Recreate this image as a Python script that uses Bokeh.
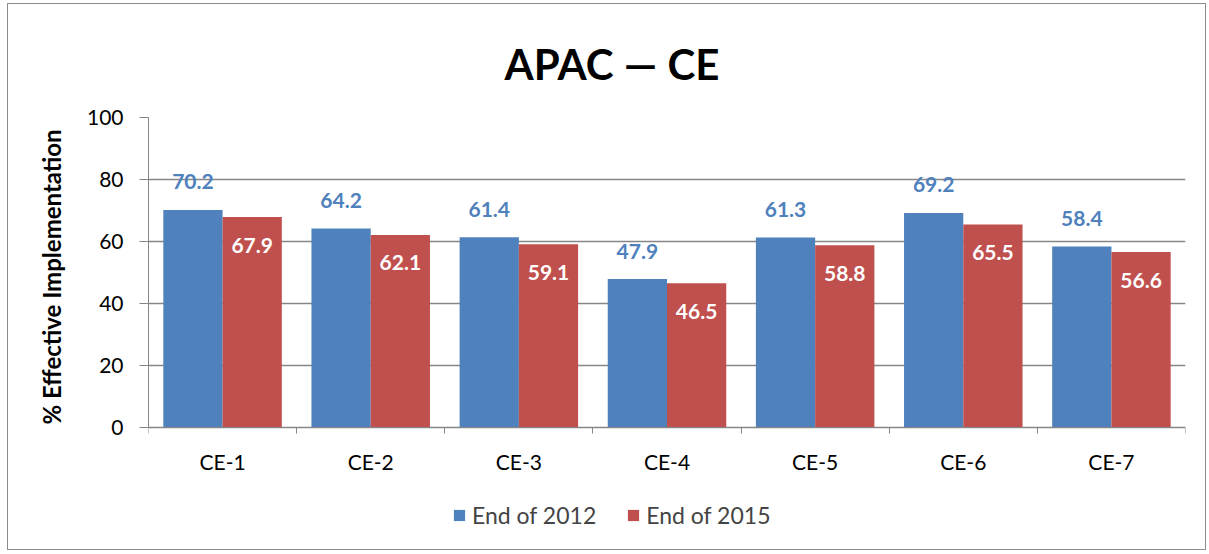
from bokeh.plotting import figure
from bokeh.models import (ColumnDataSource, FixedTicker, LabelSet, Legend, LegendItem, Range1d, Title)
from bokeh.core.properties import value
from bokeh.embed import file_html
from bokeh.resources import INLINE

categories = ["CE-1", "CE-2", "CE-3", "CE-4", "CE-5", "CE-6", "CE-7"]
end_2012 = [70.2, 64.2, 61.4, 47.9, 61.3, 69.2, 58.4]
end_2015 = [67.9, 62.1, 59.1, 46.5, 58.8, 65.5, 56.6]
series_names = ["End of 2012", "End of 2015"]
y_ticks = [0, 20, 40, 60, 80, 100]

BLUE = "#4F81BD"
RED = "#C0504D"
GRID = "#868686"
FONT = "Lato"

# layout: the value axis spans 310 px for 0..100; the frame is extended below 0
# so that the category labels and the legend sit inside the frame.
PX_PER_UNIT = 310 / 100
FRAME_H = 432
Y_MIN = -(FRAME_H - 310) / PX_PER_UNIT

idx = list(range(len(categories)))
centers = [i + 0.5 for i in idx]
src = ColumnDataSource(dict(
    xc=centers,
    x12=[c - 0.2 for c in centers],
    x15=[c + 0.2 for c in centers],
    v12=end_2012,
    v15=end_2015,
    t12=[f"{v:.1f}" for v in end_2012],
    t15=[f"{v:.1f}" for v in end_2015],
))

p = figure(frame_width=1037, frame_height=FRAME_H, output_backend="svg", toolbar_location=None,
           x_range=Range1d(0, len(categories)), y_range=Range1d(Y_MIN, 100),
           min_border_left=140, min_border_right=20, min_border_top=113, min_border_bottom=0)
p.outline_line_color = None
p.styles = {"border": "1px solid #8c8c8c", "margin-left": "7px", "margin-top": "3px"}

p.title.text = "APAC \u2014 CE"
p.title.align = "left"
p.title.offset = 356
p.title.text_font = FONT
p.title.text_font_size = "42px"
p.title.text_font_style = "bold"
p.title.text_color = "black"
p.title.standoff = 58

r12 = p.vbar(x="x12", top="v12", width=0.4, source=src, fill_color=BLUE, line_color=None)
r15 = p.vbar(x="x15", top="v15", width=0.4, source=src, fill_color=RED, line_color=None)

p.add_layout(LabelSet(x="x12", y="v12", text="t12", source=src, y_offset=28,
                      text_align="center", text_baseline="middle", text_color=BLUE,
                      text_font=value(FONT), text_font_size="21px", text_font_style="bold"))
p.add_layout(LabelSet(x="x15", y="v15", text="t15", source=src, y_offset=-28,
                      text_align="center", text_baseline="middle", text_color="white",
                      text_font=value(FONT), text_font_size="21px", text_font_style="bold"))

# axes
p.xaxis.fixed_location = 0
p.xaxis.ticker = FixedTicker(ticks=centers, minor_ticks=[float(i) for i in range(len(categories) + 1)])
p.xaxis.major_label_overrides = {c: cat for c, cat in zip(centers, categories)}
p.xaxis.major_tick_out = 0
p.xaxis.major_tick_in = 0
p.xaxis.minor_tick_out = 6
p.xaxis.minor_tick_in = 0
p.xaxis.minor_tick_line_color = GRID
p.xaxis.axis_line_color = GRID
p.xaxis.major_label_standoff = 15
p.xaxis.major_label_text_font = FONT
p.xaxis.major_label_text_font_size = "21px"
p.xaxis.major_label_text_color = "black"

p.yaxis.ticker = FixedTicker(ticks=y_ticks)
p.yaxis.bounds = (0, 100)
p.yaxis.major_tick_out = 9
p.yaxis.major_tick_in = 0
p.yaxis.minor_tick_line_color = None
p.yaxis.major_tick_line_color = GRID
p.yaxis.axis_line_color = GRID
p.yaxis.major_label_standoff = 16
p.yaxis.major_label_text_font = FONT
p.yaxis.major_label_text_font_size = "21px"
p.yaxis.major_label_text_color = "black"

# value-axis title, centred on the 0..100 span rather than the whole frame
p.add_layout(Title(text="% Effective Implementation", align="left", offset=125,
                   text_font=FONT, text_font_size="24px", text_font_style="bold",
                   text_color="black", standoff=36), "left")

p.xgrid.grid_line_color = None
p.ygrid.grid_line_color = GRID
p.ygrid.grid_line_width = 1.5

legend = Legend(items=[LegendItem(label=series_names[0], renderers=[r12]),
                       LegendItem(label=series_names[1], renderers=[r15])],
                orientation="horizontal", location=(304, 20),
                glyph_width=14, glyph_height=14, spacing=30, label_standoff=6,
                label_text_font=FONT, label_text_font_size="23px",
                border_line_color=None, background_fill_alpha=0, padding=0, margin=0)
p.add_layout(legend, "center")

open("out.html", "w").write(file_html(p, INLINE))
